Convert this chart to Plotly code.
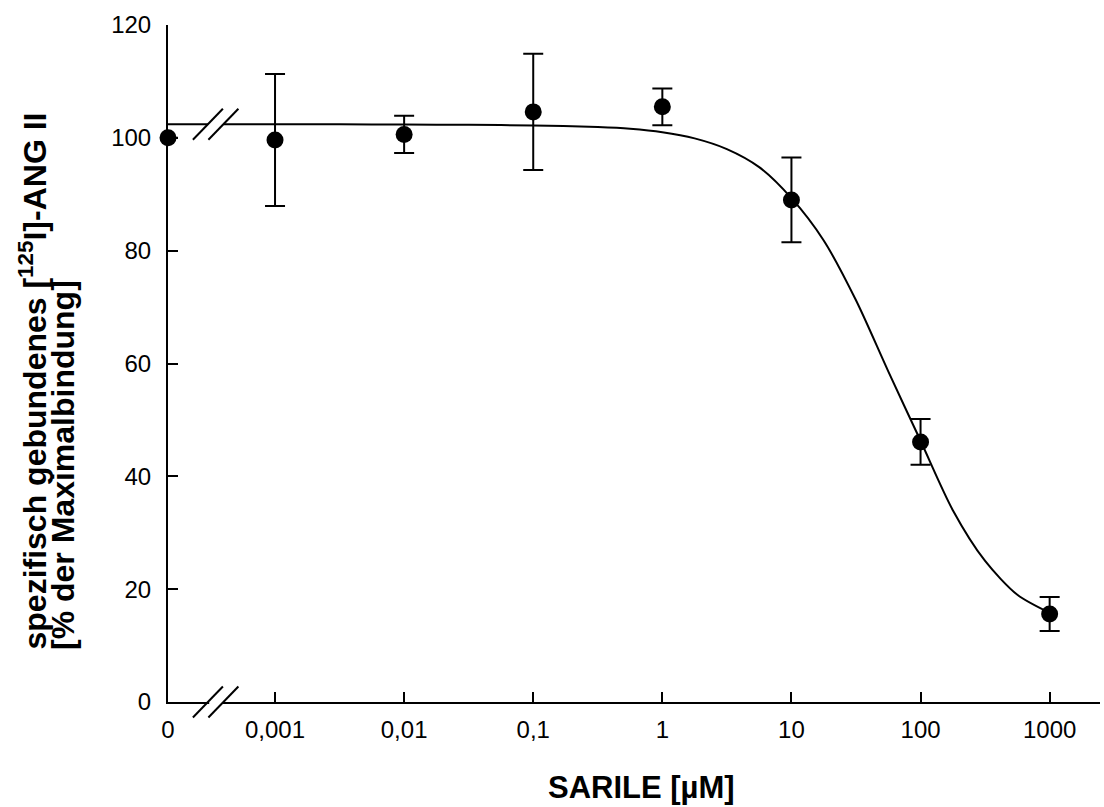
import plotly.graph_objects as go

# ---------------- data ----------------
conc_labels = ["0", "0,001", "0,01", "0,1", "1", "10", "100", "1000"]
ZERO_POS = -3.829          # axis position used for the "0" concentration (axis break)
log_conc = [ZERO_POS, -3, -2, -1, 0, 1, 2, 3]
binding = [100.0, 99.6, 100.6, 104.6, 105.5, 89.0, 46.1, 15.6]
binding_err = [0.0, 11.7, 3.3, 10.3, 3.25, 7.5, 4.05, 3.0]

# fitted curve
curve_flat_x = [ZERO_POS, -3.52]
curve_flat_y = [102.4, 102.4]
curve_x = [-3.40, -3.0, -2.5, -2.0, -1.5, -1.0, -0.5, -0.25, 0.0, 0.25, 0.5, 0.75, 1.0,
           1.25, 1.5, 1.75, 2.0, 2.25, 2.5, 2.75, 3.0]
curve_y = [102.4, 102.4, 102.4, 102.35, 102.3, 102.2, 101.9, 101.6, 101.0, 99.9, 98.0, 94.8, 89.3,
           81.8, 71.2, 58.6, 46.3, 34.0, 25.0, 19.0, 15.8]

BREAK_X = [-3.52, -3.40]
X_MAX = 3.39
Y_RANGE = [0, 120]

FONT = "Liberation Sans, Arial, Helvetica, sans-serif"

fig = go.Figure()

# curve (flat part for "0" + sigmoid part, separated by the axis break)
fig.add_trace(go.Scatter(
    x=curve_flat_x + [None] + curve_x,
    y=curve_flat_y + [None] + curve_y,
    mode="lines", line=dict(color="black", width=2, shape="spline", smoothing=0.8),
    connectgaps=False, hoverinfo="skip", showlegend=False, cliponaxis=False))

# data points with error bars
fig.add_trace(go.Scatter(
    x=log_conc, y=binding, mode="markers",
    marker=dict(color="black", size=17, symbol="circle"),
    error_y=dict(type="data", array=binding_err, visible=True,
                 color="black", thickness=2, width=10),
    showlegend=False, cliponaxis=False))

# ---------------- break marks ----------------
x_span = X_MAX - ZERO_POS
px_w = 932.0
px_h = 677.0
dx = 15.0 / px_w * x_span          # half-size of slash in x data units
dy_data = 15.5 / px_h * (Y_RANGE[1] - Y_RANGE[0])
dy_paper = 15.5 / px_h
shapes = []
# white gap in the x axis between the slashes
shapes.append(dict(type="line", xref="x", yref="paper", x0=BREAK_X[0] + 0.01, x1=BREAK_X[1] - 0.01,
                   y0=0, y1=0, line=dict(color="white", width=4), layer="above"))
curve_level = curve_flat_y[0]
for bx in BREAK_X:
    shapes.append(dict(type="line", xref="x", yref="paper",
                       x0=bx - dx, x1=bx + dx, y0=-dy_paper, y1=dy_paper,
                       line=dict(color="black", width=2), layer="above"))
    shapes.append(dict(type="line", xref="x", yref="y",
                       x0=bx - dx, x1=bx + dx, y0=curve_level - dy_data, y1=curve_level + dy_data,
                       line=dict(color="black", width=2), layer="above"))

fig.update_layout(
    width=1104, height=807,
    margin=dict(l=168, r=4, t=25, b=105),
    paper_bgcolor="white", plot_bgcolor="white",
    font=dict(family=FONT, color="black", size=24),
    shapes=shapes,
    xaxis=dict(range=[ZERO_POS, X_MAX], tickvals=log_conc, ticktext=conc_labels,
               showline=True, linecolor="black", linewidth=2, mirror=False,
               ticks="inside", ticklen=10, tickwidth=2, tickcolor="black",
               showgrid=False, zeroline=False, tickfont=dict(size=24),
               ticklabelstandoff=5),
    yaxis=dict(range=Y_RANGE, tickvals=[0, 20, 40, 60, 80, 100, 120],
               showline=True, linecolor="black", linewidth=2, mirror=False,
               ticks="inside", ticklen=10, tickwidth=2, tickcolor="black",
               showgrid=False, zeroline=False, tickfont=dict(size=24),
               ticklabelstandoff=10),
    annotations=[
        dict(text="<b>SARILE [µM]</b>", xref="paper", yref="paper",
             x=(641 - 168) / 932, y=(702 - 787) / 677, xanchor="center", yanchor="middle",
             showarrow=False, font=dict(size=31, family=FONT)),
        dict(text="<b>spezifisch gebundenes [<sup>125</sup>I]-ANG II</b>", xref="paper", yref="paper",
             x=(32 - 168) / 932, y=(702 - 652) / 677, xanchor="center", yanchor="bottom",
             textangle=-90, showarrow=False, font=dict(size=32, family=FONT)),
        dict(text="<b>[% der Maximalbindung]</b>", xref="paper", yref="paper",
             x=(63 - 168) / 932, y=(702 - 652) / 677, xanchor="center", yanchor="bottom",
             textangle=-90, showarrow=False, font=dict(size=32, family=FONT)),
    ],
)

fig.write_html("out.html")
